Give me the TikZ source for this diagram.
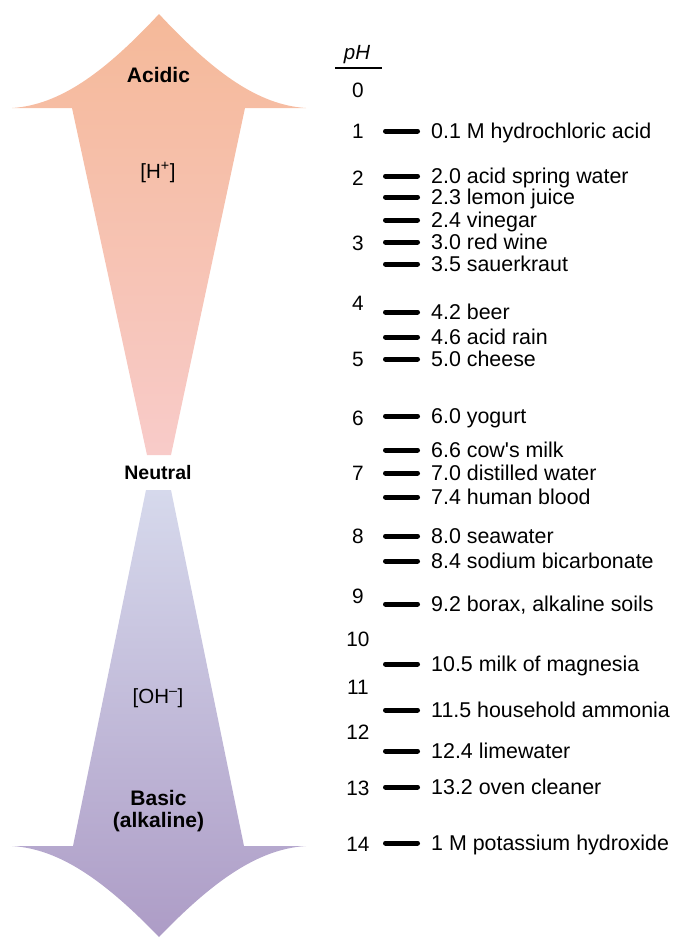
\documentclass[tikz,border=0pt]{standalone}
\usepackage{fontspec}
\setmainfont{Liberation Sans}
\definecolor{acidtop}{RGB}{245,185,153}
\definecolor{acidmid}{RGB}{246,191,170}
\definecolor{acidbot}{RGB}{248,203,201}
\definecolor{basetop}{RGB}{214,217,236}
\definecolor{basemid}{RGB}{195,188,219}
\definecolor{basebot}{RGB}{173,156,198}
\begin{document}
\begin{tikzpicture}[x=1pt,y=-1pt,
  lbl/.style={anchor=base west, inner sep=0pt, font=\fontsize{21.4}{25}\selectfont},
  num/.style={anchor=base, inner sep=0pt, font=\fontsize{20.8}{24}\selectfont},
  ttl/.style={anchor=base, inner sep=0pt, font=\fontsize{21}{25}\selectfont\bfseries},
  ion/.style={anchor=base, inner sep=0pt, font=\fontsize{20.5}{24}\selectfont},
  phbar/.style={line width=5pt, line cap=round}]
\useasboundingbox (0,0) rectangle (673,938);
% acidic arrow
\shade[top color=acidtop, middle color=acidmid, bottom color=acidbot]
  (159,14) .. controls (213,72) and (258,105) .. (306,108) -- (245,108)
  -- (171,455) -- (147,455) -- (72,108) -- (12,108)
  .. controls (60,105) and (105,72) .. (159,14) -- cycle;
% basic arrow
\shade[top color=basetop, middle color=basemid, bottom color=basebot]
  (146,490) -- (171,490) -- (244,846) -- (306,846)
  .. controls (258,849) and (213,881) .. (159,937)
  .. controls (105,881) and (60,849) .. (12,846) -- (73,846) -- cycle;
% titles
\node[ttl] (acidic) at (158.5,82) {Acidic};
\node[ttl, font=\fontsize{19.5}{23}\selectfont\bfseries] (neutral) at (158,479) {Neutral};
\node[ttl] (basic) at (158.5,805) {Basic};
\node[ttl] (alkaline) at (158.5,827) {(alkaline)};
\node[ion] (hion) at (158,178) {[H\textsuperscript{+}]};
\node[ion] (ohion) at (158,703) {[OH\textsuperscript{–}]};
% pH heading
\node[num, font=\fontsize{20.5}{24}\selectfont\itshape] (ph) at (357,59) {pH};
\coordinate (phl) at (335,68);
\coordinate (phr) at (382,68);
\draw[line width=1.5pt] (phl) -- (phr);
% pH numbers
\foreach \v/\y in {0/90,1/131,2/178,3/243,4/303,5/359,6/418,7/473,8/536,9/596,10/639,11/687,12/732,13/788,14/844}
  \node[num] (n\v) at (358,\y+7.3) {\v};
% bars and labels
\foreach \k/\y/\t in {a/131/{0.1 M hydrochloric acid},
  b/176/{2.0 acid spring water},
  c/197/{2.3 lemon juice},
  d/220/{2.4 vinegar},
  e/242/{3.0 red wine},
  f/264/{3.5 sauerkraut},
  g/312/{4.2 beer},
  h/337/{4.6 acid rain},
  i/359/{5.0 cheese},
  j/416/{6.0 yogurt},
  k/450/{6.6 cow\textquotesingle s milk},
  l/473/{7.0 distilled water},
  m/497/{7.4 human blood},
  n/536/{8.0 seawater},
  o/561/{8.4 sodium bicarbonate},
  p/604/{9.2 borax, alkaline soils},
  q/664/{10.5 milk of magnesia},
  r/710/{11.5 household ammonia},
  s/751/{12.4 limewater},
  t/787/{13.2 oven cleaner},
  u/843/{1 M potassium hydroxide}}
{
  \coordinate (b\k l) at (385.5,\y);
  \coordinate (b\k r) at (417.5,\y);
  \draw[phbar] (b\k l) -- (b\k r);
  \node[lbl] (t\k) at (431,\y+7.3) {\t};
}
\end{tikzpicture}
\end{document}
